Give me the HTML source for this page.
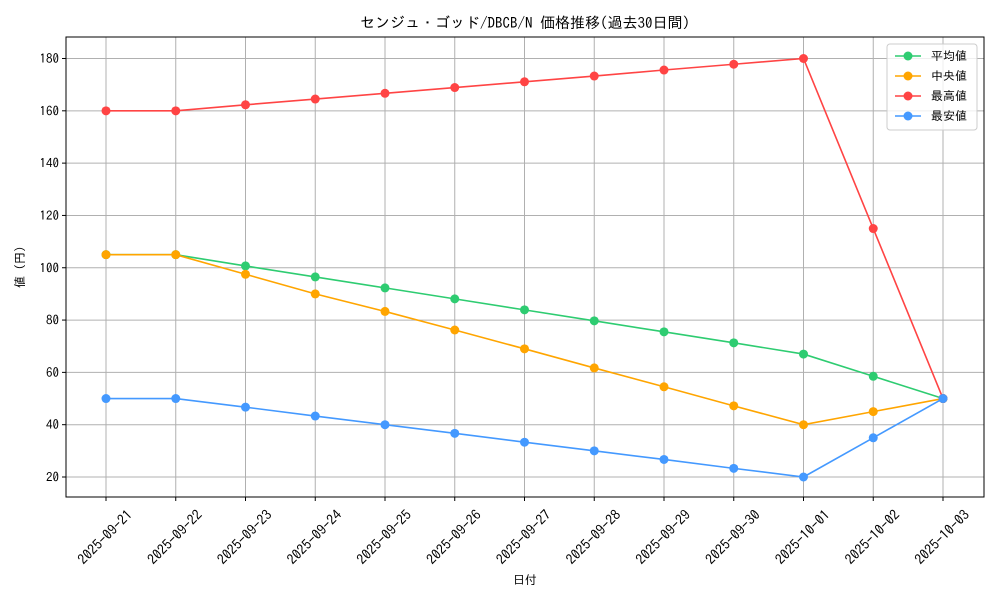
<!DOCTYPE html>
<html><head><meta charset="utf-8"><style>
body{margin:0;background:#fff;}
svg text{font-family:"IPAGothic","Liberation Sans","Noto Sans CJK JP",sans-serif;fill:#000;}
</style></head><body>
<svg id="chart" width="1000" height="600" xmlns="http://www.w3.org/2000/svg">
<rect width="1000" height="600" fill="#fff"/>
<text x="525" y="28" text-anchor="middle" font-size="15">センジュ・ゴッド/DBCB/N 価格推移(過去30日間)</text>
<g id="grid"></g>
<g id="axes"></g>
<g id="series"></g>
<text x="525" y="584" text-anchor="middle" font-size="12">日付</text>
<text transform="translate(24,267) rotate(-90)" text-anchor="middle" font-size="12">値 (円)</text>
<g id="legend"></g>
</svg>
<script>
const dates=["2025-09-21","2025-09-22","2025-09-23","2025-09-24","2025-09-25","2025-09-26","2025-09-27","2025-09-28","2025-09-29","2025-09-30","2025-10-01","2025-10-02","2025-10-03"];
const avgValues=[105,105,100.7,96.5,92.3,88.1,83.9,79.7,75.5,71.3,67,58.5,50];
const medianValues=[105,105,97.5,90,83.3,76.2,69,61.7,54.5,47.2,40,45,50];
const maxValues=[160,160,162.3,164.5,166.7,168.9,171.1,173.3,175.6,177.8,180,115,50];
const minValues=[50,50,46.7,43.3,40,36.7,33.3,30,26.7,23.3,20,35,50];
const yTicks=[20,40,60,80,100,120,140,160,180];
const seriesNames=["平均値","中央値","最高値","最安値"];
const NS="http://www.w3.org/2000/svg";
const L=66,R=984,T=37,B=497;
function xs(i){return 106+i*(943-106)/(dates.length-1);}
function ys(v){return 477-(v-20)*(477-58.5)/160;}
function mk(tag,attrs,parent){const e=document.createElementNS(NS,tag);for(const k in attrs)e.setAttribute(k,attrs[k]);parent.appendChild(e);return e;}
const grid=document.getElementById('grid'),axes=document.getElementById('axes'),ser=document.getElementById('series'),leg=document.getElementById('legend');
dates.forEach((d,i)=>{
 const x=xs(i);
 const g=mk('line',{x1:x,x2:x,y1:T,y2:B,stroke:'#b0b0b0','stroke-width':1},grid);
 
 
 mk('line',{x1:x,x2:x,y1:B,y2:B+4,stroke:'#000'},axes);
 const t=mk('text',{transform:`translate(${x-1},${B+40}) rotate(-45)`,'text-anchor':'middle','dominant-baseline':'central','font-size':14},axes);
 t.textContent=d;
 
 
});
yTicks.forEach(v=>{
 const y=ys(v);
 const g=mk('line',{x1:L,x2:R,y1:y,y2:y,stroke:'#b0b0b0','stroke-width':1},grid);
 
 
 mk('line',{x1:L-4,x2:L,y1:y,y2:y,stroke:'#000'},axes);
 const t=mk('text',{x:L-7,y:y+4.5,'text-anchor':'end','font-size':13},axes);
 t.textContent=v;
 
 
});
const frame=mk('rect',{x:L,y:T,width:R-L,height:B-T,fill:'none',stroke:'#000','stroke-width':1},axes);


const all=[[avgValues,'#2ecc71','average'],[medianValues,'#ffa500','median'],[maxValues,'#ff4444','max'],[minValues,'#4499ff','min']];
all.forEach(([vals,col,nm])=>{
 const p=mk('polyline',{points:vals.map((v,i)=>xs(i)+','+ys(v)).join(' '),fill:'none',stroke:col,'stroke-width':1.6},ser);
 
 
 vals.forEach((v,i)=>{
  const c=mk('circle',{cx:xs(i),cy:ys(v),r:4.5,fill:col},ser);
  
  
 });
});
mk('rect',{x:887,y:44,width:90,height:86,rx:3,fill:'#fff','fill-opacity':0.8,stroke:'#ccc'},leg);
all.forEach(([vals,col,nm],i)=>{
 const y=56+i*20;
 const g=mk('g',{},leg);
 
 
 mk('line',{x1:895,x2:921,y1:y,y2:y,stroke:col,'stroke-width':1.6},g);
 mk('circle',{cx:908,cy:y,r:4.5,fill:col},g);
 const t=mk('text',{x:931,y:y+4,'font-size':12},g);
 t.textContent=seriesNames[i];
});
</script>
</body></html>
